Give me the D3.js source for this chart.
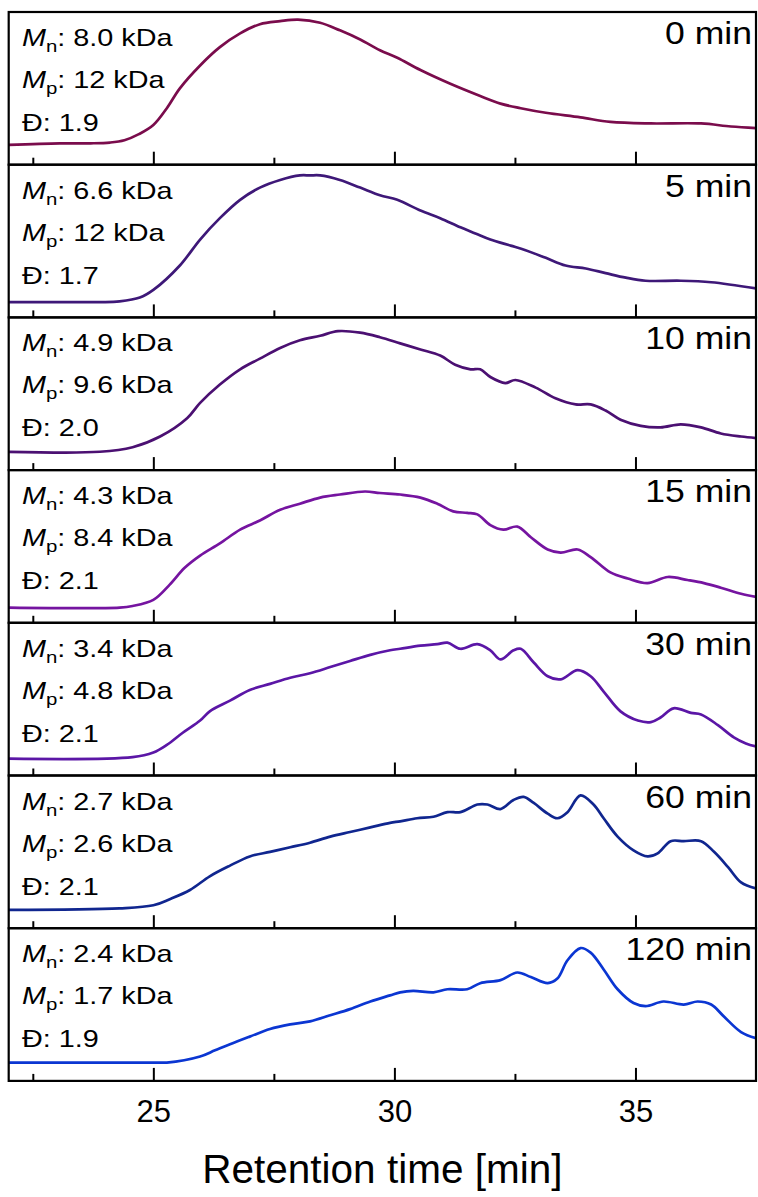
<!DOCTYPE html>
<html>
<head>
<meta charset="utf-8">
<script src="https://cdn.jsdelivr.net/npm/d3@7"></script>
<style>
  html, body { margin: 0; padding: 0; background: #fff; }
  svg { display: block; }
  text { font-family: "Liberation Sans", Arial, sans-serif; fill: #000; }
</style>
</head>
<body>
<script>
// GPC traces (retention time [min], normalised detector response) for each reaction time
const sampleTimes = ["0 min", "5 min", "10 min", "15 min", "30 min", "60 min", "120 min"];
const mnValues = ["8.0", "6.6", "4.9", "4.3", "3.4", "2.7", "2.4"];
const mpValues = ["12", "12", "9.6", "8.4", "4.8", "2.6", "1.7"];
const dispersity = ["1.9", "1.7", "2.0", "2.1", "2.1", "2.1", "1.9"];
const traceColors = ["#7a0c4c", "#3e1878", "#4b1072", "#7514a0", "#5b16a6", "#10268f", "#0b36d2"];

const trace0 = [[22.0,0.13],[23.06,0.14],[23.70,0.14],[24.10,0.145],[24.40,0.16],[24.70,0.20],[25.0,0.26],[25.28,0.37],[25.55,0.50],[25.97,0.65],[26.38,0.77],[26.80,0.86],[27.21,0.92],[27.63,0.94],[28.0,0.95],[28.46,0.93],[28.87,0.88],[29.29,0.82],[29.70,0.75],[30.06,0.70],[30.54,0.62],[31.16,0.53],[31.78,0.45],[32.20,0.40],[32.62,0.37],[33.14,0.34],[33.86,0.31],[34.48,0.28],[35.32,0.27],[36.36,0.27],[36.98,0.25],[37.5,0.24]];
const trace5 = [[22.0,0.10],[23.0,0.10],[23.90,0.10],[24.30,0.105],[24.72,0.13],[25.0,0.18],[25.55,0.34],[25.97,0.51],[26.38,0.65],[26.80,0.77],[27.21,0.85],[27.63,0.90],[28.04,0.93],[28.25,0.93],[28.46,0.93],[28.87,0.90],[29.29,0.85],[29.70,0.80],[30.06,0.77],[30.54,0.70],[30.95,0.65],[31.37,0.59],[31.68,0.55],[31.99,0.51],[32.41,0.47],[32.72,0.44],[33.14,0.39],[33.55,0.34],[33.97,0.32],[34.38,0.29],[34.80,0.26],[35.21,0.24],[35.94,0.24],[36.57,0.23],[37.5,0.19]];
const trace10 = [[22.0,0.12],[23.89,0.12],[24.57,0.15],[25.14,0.22],[25.70,0.34],[25.97,0.44],[26.38,0.56],[26.80,0.66],[27.21,0.73],[27.63,0.80],[28.04,0.85],[28.46,0.88],[28.83,0.91],[29.29,0.90],[29.70,0.87],[30.12,0.83],[30.54,0.79],[30.95,0.75],[31.26,0.69],[31.58,0.66],[31.78,0.66],[31.99,0.61],[32.30,0.57],[32.51,0.59],[32.93,0.54],[33.34,0.47],[33.76,0.43],[34.07,0.43],[34.38,0.39],[34.69,0.33],[35.11,0.29],[35.52,0.28],[35.94,0.30],[36.36,0.28],[36.77,0.24],[37.19,0.22],[37.5,0.21]];
const trace15 = [[22.0,0.10],[24.30,0.10],[24.57,0.11],[25.0,0.15],[25.34,0.25],[25.65,0.36],[25.97,0.44],[26.38,0.52],[26.80,0.61],[27.21,0.67],[27.63,0.74],[28.04,0.78],[28.46,0.82],[28.87,0.84],[29.39,0.86],[29.70,0.85],[30.12,0.84],[30.54,0.82],[30.89,0.78],[31.22,0.73],[31.51,0.72],[31.72,0.71],[31.99,0.64],[32.26,0.61],[32.55,0.63],[32.83,0.56],[33.18,0.48],[33.45,0.46],[33.80,0.48],[34.07,0.43],[34.48,0.33],[34.84,0.29],[35.25,0.26],[35.67,0.30],[36.08,0.28],[36.42,0.26],[36.77,0.23],[37.19,0.19],[37.5,0.17]];
const trace30 = [[22.0,0.11],[24.57,0.12],[25.0,0.15],[25.28,0.20],[25.61,0.28],[25.97,0.36],[26.17,0.42],[26.59,0.49],[27.0,0.56],[27.42,0.60],[27.84,0.64],[28.25,0.67],[28.67,0.71],[29.08,0.75],[29.50,0.79],[29.91,0.82],[30.12,0.83],[30.54,0.85],[30.89,0.86],[31.10,0.87],[31.37,0.83],[31.72,0.86],[31.99,0.82],[32.20,0.76],[32.47,0.82],[32.62,0.83],[32.89,0.74],[33.18,0.65],[33.45,0.63],[33.80,0.69],[34.07,0.65],[34.34,0.55],[34.69,0.42],[35.05,0.36],[35.32,0.35],[35.52,0.38],[35.79,0.44],[36.15,0.41],[36.36,0.40],[36.71,0.33],[37.04,0.25],[37.29,0.21],[37.5,0.19]];
const trace60 = [[22.0,0.12],[24.30,0.13],[25.0,0.15],[25.34,0.19],[25.76,0.25],[26.17,0.34],[26.59,0.41],[27.0,0.47],[27.42,0.50],[27.84,0.53],[28.25,0.56],[28.67,0.60],[29.08,0.63],[29.50,0.66],[29.91,0.69],[30.12,0.70],[30.47,0.72],[30.81,0.73],[31.10,0.76],[31.37,0.76],[31.72,0.81],[31.93,0.81],[32.20,0.78],[32.47,0.84],[32.68,0.86],[32.89,0.82],[33.18,0.75],[33.38,0.72],[33.59,0.76],[33.86,0.87],[34.13,0.81],[34.34,0.72],[34.63,0.60],[34.96,0.51],[35.25,0.47],[35.46,0.49],[35.73,0.57],[36.00,0.57],[36.36,0.57],[36.63,0.50],[36.92,0.40],[37.19,0.30],[37.5,0.26]];
const trace120 = [[22.0,0.12],[25.14,0.12],[25.28,0.12],[25.97,0.16],[26.28,0.20],[26.59,0.24],[27.0,0.29],[27.42,0.34],[27.84,0.37],[28.25,0.39],[28.67,0.43],[29.08,0.47],[29.50,0.52],[29.91,0.56],[30.12,0.58],[30.39,0.59],[30.81,0.58],[31.10,0.60],[31.51,0.60],[31.78,0.64],[32.20,0.66],[32.55,0.71],[32.83,0.68],[33.18,0.64],[33.38,0.67],[33.59,0.79],[33.86,0.87],[34.07,0.84],[34.34,0.73],[34.63,0.60],[34.96,0.51],[35.21,0.49],[35.58,0.52],[36.00,0.50],[36.29,0.52],[36.57,0.50],[36.84,0.42],[37.19,0.32],[37.5,0.28]];

const traces = [trace0, trace5, trace10, trace15, trace30, trace60, trace120];
const majorTicks = [25, 30, 35];
const minorTicks = [22.5, 27.5, 32.5];
const xTitle = "Retention time [min]";

// ---- layout ----
const W = 758, H = 1197;
const plotLeft = 8.7, plotRight = 756, plotTop = 12, panelH = 152.7;

const x = d3.scaleLinear().domain([22, 37.5]).range([plotLeft, plotRight]);
const y = d3.scaleLinear().domain([0, 1]).range([panelH, 0]);

const svg = d3.select("body").append("svg")
  .attr("width", W).attr("height", H)
  .attr("viewBox", `0 0 ${W} ${H}`);

svg.append("defs").append("clipPath").attr("id", "panel-clip")
  .append("rect")
  .attr("x", plotLeft).attr("y", 0)
  .attr("width", plotRight - plotLeft).attr("height", panelH);

const line = d3.line()
  .x(d => x(d[0]))
  .y(d => y(d[1]))
  .curve(d3.curveCatmullRom.alpha(0.5));

// one stacked panel per reaction time
traces.forEach((trace, i) => {
  const g = svg.append("g").attr("transform", `translate(0,${plotTop + i * panelH})`);

  g.append("path")
    .datum(trace)
    .attr("clip-path", "url(#panel-clip)")
    .attr("fill", "none")
    .attr("stroke", traceColors[i])
    .attr("stroke-width", 2.7)
    .attr("stroke-linejoin", "round")
    .attr("stroke-linecap", "round")
    .attr("d", line);

  // inward ticks along the panel's lower edge
  const major = g.append("g").attr("transform", `translate(0,${panelH})`)
    .call(d3.axisBottom(x).tickValues(majorTicks).tickSize(-13).tickFormat(""));
  const minor = g.append("g").attr("transform", `translate(0,${panelH})`)
    .call(d3.axisBottom(x).tickValues(minorTicks).tickSize(-7).tickFormat(""));
  [major, minor].forEach(a => {
    a.select(".domain").remove();
    a.selectAll(".tick line").attr("stroke", "#000").attr("stroke-width", 2);
  });

  // frame
  g.append("rect")
    .attr("x", plotLeft).attr("y", 0)
    .attr("width", plotRight - plotLeft).attr("height", panelH)
    .attr("fill", "none").attr("stroke", "#000").attr("stroke-width", 2.2);

  // reaction time label, top right
  g.append("text")
    .attr("transform", `translate(752,${32}) scale(1.13,1)`)
    .attr("text-anchor", "end")
    .attr("font-size", 31.5)
    .text(sampleTimes[i]);

  // molar mass / dispersity annotations
  const rows = [
    { sym: "M", sub: "n", val: `: ${mnValues[i]} kDa`, yOff: 34 },
    { sym: "M", sub: "p", val: `: ${mpValues[i]} kDa`, yOff: 76 },
    { sym: null, sub: null, val: `Đ: ${dispersity[i]}`, yOff: 119 }
  ];
  rows.forEach(r => {
    const t = g.append("text")
      .attr("transform", `translate(22,${r.yOff}) scale(1.2,1)`)
      .attr("font-size", 24);
    if (r.sym) {
      t.append("tspan").attr("font-style", "italic").text(r.sym);
      t.append("tspan").attr("font-size", 17).attr("dy", 6).text(r.sub);
      t.append("tspan").attr("dy", -6).text(r.val);
    } else {
      t.append("tspan").text(r.val);
    }
  });

  // tick labels on the lowest panel only
  if (i === traces.length - 1) {
    const lab = g.append("g").attr("transform", `translate(0,${panelH})`)
      .call(d3.axisBottom(x).tickValues(majorTicks).tickSize(0).tickPadding(19).tickFormat(d3.format("d")));
    lab.select(".domain").remove();
    lab.selectAll(".tick text")
      .attr("font-size", 31)
      .attr("font-family", "'Liberation Sans', Arial, sans-serif")
      .attr("fill", "#000");
  }
});

// x-axis title
svg.append("text")
  .attr("x", (plotLeft + plotRight) / 2)
  .attr("y", 1183)
  .attr("text-anchor", "middle")
  .attr("font-size", 40.5)
  .text(xTitle);
</script>
</body>
</html>
